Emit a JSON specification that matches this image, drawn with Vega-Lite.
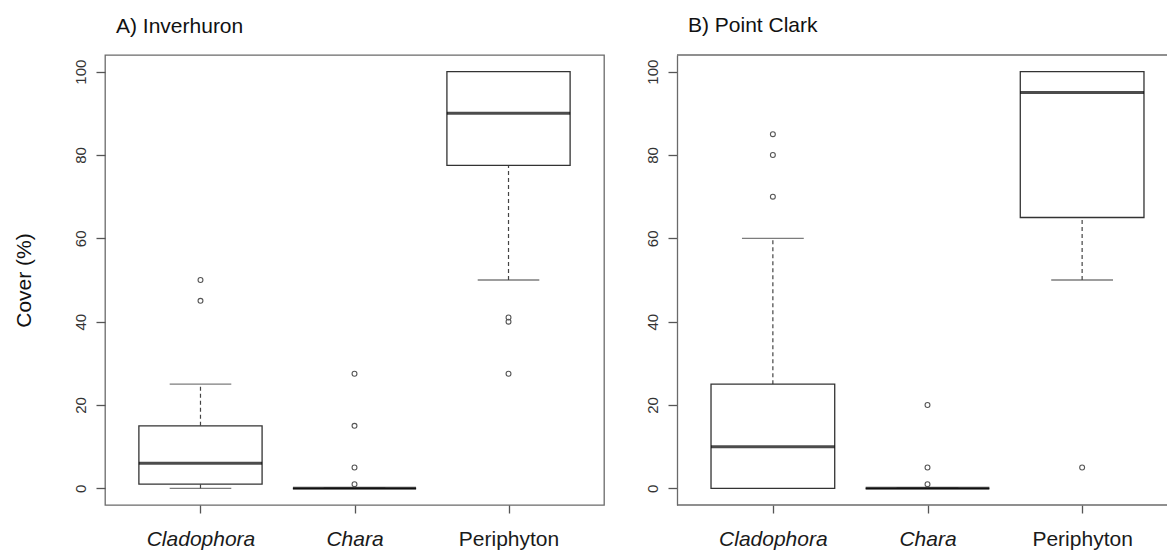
{
  "$schema": "https://vega.github.io/schema/vega-lite/v6.json",
  "padding": {"left": 12, "top": 15, "right": 0, "bottom": 0},
  "bounds": "flush",
  "spacing": 73,
  "config": {
    "font": "Liberation Sans",
    "view": {"stroke": null},
    "axis": {"grid": false},
    "title": {"font": "Liberation Sans", "fontWeight": "normal", "fontSize": 21, "color": "#111111", "anchor": "start", "frame": "group", "baseline": "alphabetic", "offset": 18, "dx": 11}
  },
  "datasets": {
    "stats": [
      {"site": "Inverhuron", "group": "Cladophora", "lo": 0, "q1": 1, "med": 6, "q3": 15, "hi": 25},
      {"site": "Inverhuron", "group": "Chara", "lo": 0, "q1": 0, "med": 0, "q3": 0, "hi": 0},
      {"site": "Inverhuron", "group": "Periphyton", "lo": 50, "q1": 77.5, "med": 90, "q3": 100, "hi": 100},
      {"site": "Point Clark", "group": "Cladophora", "lo": 0, "q1": 0, "med": 10, "q3": 25, "hi": 60},
      {"site": "Point Clark", "group": "Chara", "lo": 0, "q1": 0, "med": 0, "q3": 0, "hi": 0},
      {"site": "Point Clark", "group": "Periphyton", "lo": 50, "q1": 65, "med": 95, "q3": 100, "hi": 100}
    ],
    "outliers": [
      {"site": "Inverhuron", "group": "Cladophora", "value": 50},
      {"site": "Inverhuron", "group": "Cladophora", "value": 45},
      {"site": "Inverhuron", "group": "Chara", "value": 27.5},
      {"site": "Inverhuron", "group": "Chara", "value": 15},
      {"site": "Inverhuron", "group": "Chara", "value": 5},
      {"site": "Inverhuron", "group": "Chara", "value": 1},
      {"site": "Inverhuron", "group": "Periphyton", "value": 41},
      {"site": "Inverhuron", "group": "Periphyton", "value": 40},
      {"site": "Inverhuron", "group": "Periphyton", "value": 27.5},
      {"site": "Point Clark", "group": "Cladophora", "value": 85},
      {"site": "Point Clark", "group": "Cladophora", "value": 80},
      {"site": "Point Clark", "group": "Cladophora", "value": 70},
      {"site": "Point Clark", "group": "Chara", "value": 20},
      {"site": "Point Clark", "group": "Chara", "value": 5},
      {"site": "Point Clark", "group": "Chara", "value": 1},
      {"site": "Point Clark", "group": "Periphyton", "value": 5}
    ]
  },
  "hconcat": [
    {
      "width": 499,
      "height": 450,
      "view": {"stroke": "#6a6a6a", "strokeWidth": 1.3},
      "title": {"text": "A) Inverhuron"},
      "encoding": {
        "x": {
          "field": "group", "type": "nominal",
          "scale": {"type": "point", "domain": ["Cladophora", "Chara", "Periphyton"], "padding": 0.62, "range": [0, 499]},
          "axis": {
            "title": null, "domain": false, "tickSize": 8, "tickColor": "#555555", "tickWidth": 1.3,
            "labelAngle": 0, "labelFontSize": 21, "labelColor": "#1a1a1a", "labelBaseline": "alphabetic", "labelPadding": 32,
            "labelFontStyle": {"condition": {"test": "datum.value === 'Periphyton'", "value": "normal"}, "value": "italic"}
          }
        }
      },
      "layer": [
        {
          "data": {"name": "stats"},
          "transform": [{"filter": "datum.site === 'Inverhuron'"}],
          "mark": {"type": "rule", "color": "#444444", "strokeWidth": 1.2, "strokeDash": [4, 3]},
          "encoding": {
            "y": {"field": "lo", "type": "quantitative", "scale": {"domain": [-4, 104], "nice": false, "zero": false},
              "axis": {"title": "Cover (%)", "titleFontSize": 21, "titleFontWeight": "normal", "titleColor": "#111111", "titlePadding": 43, "titleBaseline": "alphabetic",
                "domain": false, "values": [0, 20, 40, 60, 80, 100], "tickSize": 9, "tickColor": "#555555", "tickWidth": 1.3,
                "labelAngle": 270, "labelAlign": "center", "labelBaseline": "alphabetic", "labelPadding": 11, "labelFontSize": 15, "labelColor": "#333333"}},
            "y2": {"field": "q1"}
          }
        },
        {
          "data": {"name": "stats"},
          "transform": [{"filter": "datum.site === 'Inverhuron'"}],
          "mark": {"type": "rule", "color": "#444444", "strokeWidth": 1.2, "strokeDash": [4, 3]},
          "encoding": {"y": {"field": "q3", "type": "quantitative"}, "y2": {"field": "hi"}}
        },
        {
          "data": {"name": "stats"},
          "transform": [{"filter": "datum.site === 'Inverhuron'"}],
          "mark": {"type": "tick", "color": "#444444", "size": 61.6, "thickness": 1.3},
          "encoding": {"y": {"field": "lo", "type": "quantitative"}}
        },
        {
          "data": {"name": "stats"},
          "transform": [{"filter": "datum.site === 'Inverhuron'"}],
          "mark": {"type": "tick", "color": "#444444", "size": 61.6, "thickness": 1.3},
          "encoding": {"y": {"field": "hi", "type": "quantitative"}}
        },
        {
          "data": {"name": "stats"},
          "transform": [{"filter": "datum.site === 'Inverhuron'"}],
          "mark": {"type": "bar", "fill": "white", "stroke": "#333333", "strokeWidth": 1.3, "size": 123.2},
          "encoding": {"y": {"field": "q1", "type": "quantitative"}, "y2": {"field": "q3"}}
        },
        {
          "data": {"name": "stats"},
          "transform": [{"filter": "datum.site === 'Inverhuron'"}],
          "mark": {"type": "tick", "color": "#000000", "size": 123.2, "thickness": 3},
          "encoding": {"y": {"field": "med", "type": "quantitative"}}
        },
        {
          "data": {"name": "outliers"},
          "transform": [{"filter": "datum.site === 'Inverhuron'"}],
          "mark": {"type": "point", "shape": "circle", "filled": false, "size": 24, "stroke": "#555555", "strokeWidth": 1.1, "opacity": 1},
          "encoding": {"y": {"field": "value", "type": "quantitative"}}
        }
      ]
    },
    {
      "width": 490,
      "height": 450,
      "view": {"stroke": null},
      "title": {"text": "B) Point Clark"},
      "layer": [
        {
          "encoding": {
            "x": {
              "field": "group", "type": "nominal",
              "scale": {"type": "point", "domain": ["Cladophora", "Chara", "Periphyton"], "padding": 0.62, "range": [0, 501]},
              "axis": {
                "title": null, "domain": false, "tickSize": 8, "tickColor": "#555555", "tickWidth": 1.3,
                "labelAngle": 0, "labelFontSize": 21, "labelColor": "#1a1a1a", "labelBaseline": "alphabetic", "labelPadding": 32,
                "labelFontStyle": {"condition": {"test": "datum.value === 'Periphyton'", "value": "normal"}, "value": "italic"}
              }
            }
          },
          "layer": [
            {
              "data": {"name": "stats"},
              "transform": [{"filter": "datum.site === 'Point Clark'"}],
              "mark": {"type": "rule", "color": "#444444", "strokeWidth": 1.2, "strokeDash": [4, 3]},
              "encoding": {
                "y": {"field": "lo", "type": "quantitative", "scale": {"domain": [-4, 104], "nice": false, "zero": false},
                  "axis": {"title": null,
                    "domain": true, "domainColor": "#6a6a6a", "domainWidth": 1.3, "values": [0, 20, 40, 60, 80, 100], "tickSize": 9, "tickColor": "#555555", "tickWidth": 1.3,
                    "labelAngle": 270, "labelAlign": "center", "labelBaseline": "alphabetic", "labelPadding": 11, "labelFontSize": 15, "labelColor": "#333333"}},
                "y2": {"field": "q1"}
              }
            },
            {
              "data": {"name": "stats"},
              "transform": [{"filter": "datum.site === 'Point Clark'"}],
              "mark": {"type": "rule", "color": "#444444", "strokeWidth": 1.2, "strokeDash": [4, 3]},
              "encoding": {"y": {"field": "q3", "type": "quantitative"}, "y2": {"field": "hi"}}
            },
            {
              "data": {"name": "stats"},
              "transform": [{"filter": "datum.site === 'Point Clark'"}],
              "mark": {"type": "tick", "color": "#444444", "size": 61.8, "thickness": 1.3},
              "encoding": {"y": {"field": "lo", "type": "quantitative"}}
            },
            {
              "data": {"name": "stats"},
              "transform": [{"filter": "datum.site === 'Point Clark'"}],
              "mark": {"type": "tick", "color": "#444444", "size": 61.8, "thickness": 1.3},
              "encoding": {"y": {"field": "hi", "type": "quantitative"}}
            },
            {
              "data": {"name": "stats"},
              "transform": [{"filter": "datum.site === 'Point Clark'"}],
              "mark": {"type": "bar", "fill": "white", "stroke": "#333333", "strokeWidth": 1.3, "size": 123.7},
              "encoding": {"y": {"field": "q1", "type": "quantitative"}, "y2": {"field": "q3"}}
            },
            {
              "data": {"name": "stats"},
              "transform": [{"filter": "datum.site === 'Point Clark'"}],
              "mark": {"type": "tick", "color": "#000000", "size": 123.7, "thickness": 3},
              "encoding": {"y": {"field": "med", "type": "quantitative"}}
            },
            {
              "data": {"name": "outliers"},
              "transform": [{"filter": "datum.site === 'Point Clark'"}],
              "mark": {"type": "point", "shape": "circle", "filled": false, "size": 24, "stroke": "#555555", "strokeWidth": 1.1, "opacity": 1},
              "encoding": {"y": {"field": "value", "type": "quantitative"}}
            }
          ]
        },
        {
          "data": {"values": [{}]},
          "mark": {"type": "rule", "color": "#6a6a6a", "strokeWidth": 1.3},
          "encoding": {"y": {"datum": 104, "type": "quantitative"}}
        },
        {
          "data": {"values": [{}]},
          "mark": {"type": "rule", "color": "#6a6a6a", "strokeWidth": 1.3},
          "encoding": {"y": {"datum": -4, "type": "quantitative"}}
        }
      ]
    }
  ]
}
